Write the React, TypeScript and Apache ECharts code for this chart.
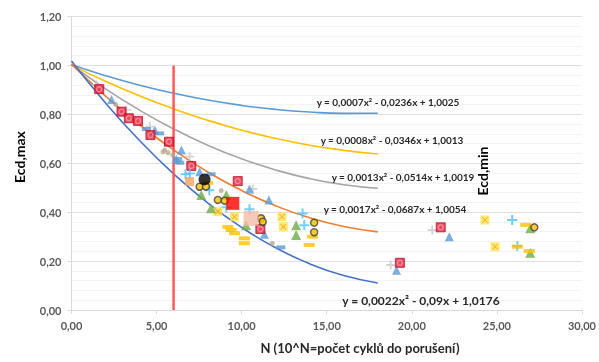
import React, { useEffect, useRef } from "react";
import * as echarts from "echarts";

// trendline samples (x = 0..18 step 2), read from the trendline equations shown
const trendX = [0, 2, 4, 6, 8, 10, 12, 14, 16, 18];
const trend1 = [1.0025, 0.9581, 0.9193, 0.8861, 0.8585, 0.8365, 0.8201, 0.8093, 0.8041, 0.8045];
const trend2 = [1.0013, 0.9353, 0.8757, 0.8225, 0.7757, 0.7353, 0.7013, 0.6737, 0.6525, 0.6377];
const trend3 = [1.0019, 0.9043, 0.8171, 0.7403, 0.6739, 0.6179, 0.5723, 0.5371, 0.5123, 0.4979];
const trend4 = [1.0054, 0.8748, 0.7578, 0.6544, 0.5646, 0.4884, 0.4258, 0.3768, 0.3414, 0.3196];
const trend5 = [1.0176, 0.8464, 0.6928, 0.5568, 0.4384, 0.3376, 0.2544, 0.1888, 0.1408, 0.1104];
const trendLabels = [
  "y = 0,0007x² - 0,0236x + 1,0025",
  "y = 0,0008x² - 0,0346x + 1,0013",
  "y = 0,0013x² - 0,0514x + 1,0019",
  "y = 0,0017x² - 0,0687x + 1,0054",
  "y = 0,0022x² - 0,09x + 1,0176",
];

const limitX = [6, 6];
const limitY = [0, 1.0];

const redMarked = [[1.63, 0.903], [2.94, 0.811], [3.37, 0.784], [3.91, 0.773], [4.64, 0.715], [5.73, 0.688], [7.04, 0.589], [9.77, 0.527], [11.1, 0.331], [21.7, 0.338], [19.3, 0.193]];
const blueTriangles = [[2.35, 0.861], [6.46, 0.654], [6.16, 0.616], [7.53, 0.565], [10.46, 0.495], [11.6, 0.45], [11.34, 0.31], [19.1, 0.163], [22.2, 0.3], [4.9, 0.735]];
const blueDashes = [[5.18, 0.722], [6.24, 0.617], [6.36, 0.602], [4.4, 0.74], [12.3, 0.256], [8.2, 0.555]];
const tanDots = [[5.48, 0.654], [5.67, 0.643], [5.38, 0.647], [5.95, 0.634], [8.8, 0.488], [11.8, 0.273], [2.6, 0.84]];
const grayPlus = [[1.48, 0.92], [3.23, 0.818], [4.6, 0.75], [6.94, 0.627], [10.65, 0.495], [21.2, 0.327], [18.76, 0.184]];
const cyanPlus = [[6.7, 0.555], [6.95, 0.558], [8.1, 0.49], [9.1, 0.42], [10.46, 0.412], [13.58, 0.395], [13.68, 0.347], [25.9, 0.368], [26.2, 0.262]];
const blackDot = [[7.82, 0.534]];
const yellowX = [[8.6, 0.402], [9.58, 0.381], [12.37, 0.381], [12.45, 0.34], [24.3, 0.368], [24.9, 0.259]];
const greenTriangles = [[7.63, 0.47], [8.2, 0.416], [9.1, 0.47], [10.26, 0.347], [13.2, 0.347], [13.2, 0.307], [26.96, 0.334], [26.96, 0.234]];
const ringDots = [[7.53, 0.504], [7.9, 0.505], [8.6, 0.45], [9.0, 0.447], [11.14, 0.375], [11.24, 0.361], [14.26, 0.357], [14.26, 0.318], [27.2, 0.338]];
const orangeDashes = [[9.19, 0.34], [9.38, 0.327], [9.58, 0.314], [10.16, 0.293], [10.16, 0.273], [14.17, 0.3], [13.97, 0.266], [26.7, 0.348], [26.2, 0.259], [26.9, 0.241], [8.0, 0.52]];
const redBig = [[9.48, 0.436]];
const peachBig = [[10.55, 0.375]];
const orangeSmall = [[6.94, 0.525]];

const plusPath = "path://M4,0h2v4h4v2h-4v4h-2v-4h-4v-2h4z";
const crossPath = "path://M1,0L5,4L9,0L10,1L6,5L10,9L9,10L5,6L1,10L0,9L4,5L0,1z";
const FONT = "Lato, 'Liberation Sans', sans-serif";

function zip(xs: number[], ys: number[]) {
  return xs.map((x, i) => [x, ys[i]]);
}

export default function App() {
  const ref = useRef<HTMLDivElement>(null);
  useEffect(() => {
    if (!ref.current) return;
    const chart = echarts.init(ref.current, undefined, { renderer: "svg" });
    const fmt = (v: number) => v.toFixed(2).replace(".", ",");
    const lineSeries = (data: number[], color: string) => ({
      type: "line",
      data: zip(trendX, data),
      smooth: true,
      showSymbol: false,
      symbol: "none",
      lineStyle: { color, width: 1.6 },
      z: 2,
    });
    const sc = (data: number[][], symbol: string, size: any, color: string, extra: any = {}, z = 4) => ({
      type: "scatter",
      data,
      symbol,
      symbolSize: size,
      itemStyle: { color, ...extra },
      z,
    });
    const eqText = (text: string, x: number, y: number, size = 10) => ({
      type: "text",
      x,
      y,
      style: { text, font: `bold ${size}px ${FONT}`, fill: "#262626", align: "center", verticalAlign: "middle" },
      z: 10,
    });
    chart.setOption({
      animation: false,
      grid: { left: 71.5, right: 15.5, top: 16.5, bottom: 52 },
      xAxis: {
        type: "value",
        min: 0,
        max: 30,
        interval: 5,
        axisLine: { show: true, lineStyle: { color: "#d9d9d9" } },
        axisTick: { show: true, length: 4, lineStyle: { color: "#d9d9d9" } },
        axisLabel: { formatter: fmt, color: "#595959", fontSize: 11, fontWeight: "bold", fontFamily: FONT, margin: 10 },
        splitLine: { show: false },
      },
      yAxis: {
        type: "value",
        min: 0,
        max: 1.2,
        interval: 0.2,
        axisLine: { show: true, lineStyle: { color: "#d9d9d9" } },
        axisTick: { show: true, length: 4, lineStyle: { color: "#d9d9d9" } },
        axisLabel: { formatter: fmt, color: "#595959", fontSize: 11, fontWeight: "bold", fontFamily: FONT, margin: 10 },
        splitLine: { show: true, lineStyle: { color: "#e0e0e0" } },
        minorTick: { show: false, splitNumber: 5 },
        minorSplitLine: { show: true, lineStyle: { color: "#f3f3f3" } },
      },
      series: [
        lineSeries(trend1, "#5b9bd5"),
        lineSeries(trend2, "#ffc000"),
        lineSeries(trend3, "#a5a5a5"),
        lineSeries(trend4, "#ed7d31"),
        lineSeries(trend5, "#4472c4"),
        {
          type: "line",
          data: zip(limitX, limitY),
          symbol: "none",
          lineStyle: { color: "#ff5a5a", width: 2.5 },
          z: 3,
        },
        sc(tanDots, "circle", 5, "#b8aa8c"),
        sc(grayPlus, plusPath, 9, "#c8c8c8"),
        sc(blueDashes, "rect", [9, 4], "#5b9bd5"),
        sc(blueTriangles, "triangle", 9, "#5b9bd5"),
        sc(redMarked, "rect", 9, "#e0203a", { borderColor: "#c0102a", borderWidth: 1 }),
        sc(redMarked, "circle", 5, "none", { color: "transparent", borderColor: "#ff9fb0", borderWidth: 1.3 }, 5),
        sc(cyanPlus, plusPath, 10, "#4fc3f7"),
        sc(yellowX, "rect", 9, "#ffe44d"),
        sc(yellowX, crossPath, 6, "#f0a020", {}, 5),
        sc(greenTriangles, "triangle", 10, "#70ad47"),
        sc(orangeDashes, "rect", [11, 4], "#ffc000"),
        sc(ringDots, "circle", 7, "#ffc000", { borderColor: "#404040", borderWidth: 1.5 }),
        sc(blackDot, "circle", 12, "#000000"),
        sc(orangeSmall, "rect", 9, "#f4a460"),
        sc(redBig, "rect", 13, "#ff0000"),
        sc(peachBig, "rect", 15, "#f4bca8"),
      ],
      graphic: [
        eqText(trendLabels[0], 388, 102),
        eqText(trendLabels[1], 392, 140),
        eqText(trendLabels[2], 403, 177),
        eqText(trendLabels[3], 395, 209),
        eqText(trendLabels[4], 421, 300, 12),
        {
          type: "text",
          x: 482,
          y: 171,
          rotation: Math.PI / 2,
          style: { text: "Ecd,min", font: `bold 14px ${FONT}`, fill: "#000", align: "center", verticalAlign: "middle" },
          z: 10,
        },
        {
          type: "text",
          x: 19,
          y: 157,
          rotation: Math.PI / 2,
          style: { text: "Ecd,max", font: `bold 14px ${FONT}`, fill: "#000", align: "center", verticalAlign: "middle" },
          z: 10,
        },
        {
          type: "text",
          x: 360,
          y: 348,
          style: { text: "N (10^N=počet cyklů do porušení)", font: `bold 13px ${FONT}`, fill: "#262626", align: "center", verticalAlign: "middle" },
          z: 10,
        },
      ],
    });
    return () => chart.dispose();
  }, []);
  return <div ref={ref} style={{ position: "fixed", left: 0, top: 0, width: 599, height: 362 }} />;
}
